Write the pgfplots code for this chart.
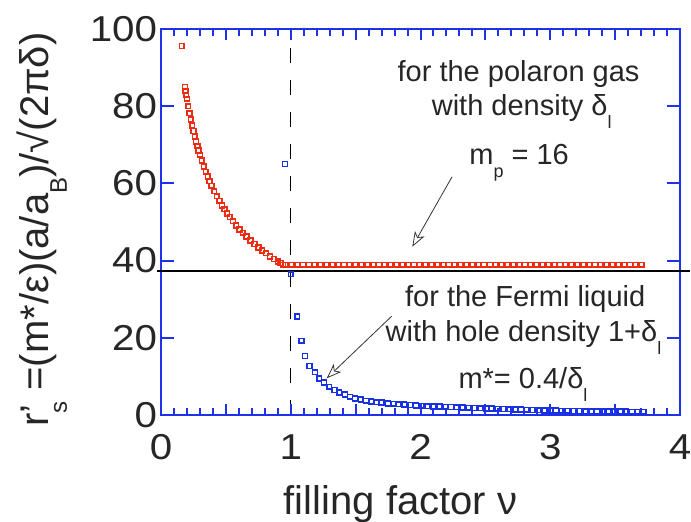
\documentclass[border=0pt]{standalone}
\usepackage{fontspec}
\setmainfont{Liberation Sans}
\usepackage{pgfplots}
\pgfplotsset{compat=1.18}
\usetikzlibrary{arrows.meta}

\definecolor{axblue}{RGB}{30,50,235}
\definecolor{ptred}{RGB}{235,45,20}
\definecolor{ptblue}{RGB}{25,50,225}
% lowered subscripts as in the original
\newcommand\dn[1]{\raisebox{-0.45em}{\fontsize{18}{18}\selectfont #1}}
\newcommand\dnL[1]{\raisebox{-0.45em}{\fontsize{24}{24}\selectfont #1}}

\begin{document}
\begin{tikzpicture}
\begin{axis}[
    name=ax, at={(0,0)}, anchor=south west,
    width=519pt, height=386pt, scale only axis,
    xmin=0, xmax=4, ymin=0, ymax=100,
    clip=false,
    axis line style={axblue, line width=1.6pt},
    tick style={draw=none},
    xtick={0,0.5,...,4}, xticklabels={0,,1,,2,,3,,4},
    ytick={0,20,...,100},
    tick label style={font=\fontsize{36}{36}\selectfont, text=black!85, xscale=1.12},
    /pgf/number format/assume math mode=true,
    xticklabel style={yshift=-16pt},
    xlabel={filling factor ν},
    ylabel={r\rlap{\char"27}\dnL{s} =(m*/ε)(a/a\dnL{B})/√(2πδ)},
    xlabel style={at={(axis description cs:0.4615,-0.232)}, anchor=center,
                  font=\fontsize{40}{40}\selectfont, text=black!85},
    ylabel style={at={(axis description cs:-0.229,0.48)}, anchor=center,
                  font=\fontsize{40}{40}\selectfont, text=black!85},
]
%-- polaron gas branch
\addplot[only marks, mark=square, mark size=2.4pt, ptred,
         mark options={line width=1.6pt}] table {
x y
0.160 95.6
0.185 85.0
0.190 83.9
0.195 82.9
0.200 81.9
0.210 80.0
0.220 78.2
0.230 76.6
0.240 75.0
0.250 73.6
0.260 72.2
0.270 70.9
0.280 69.7
0.290 68.5
0.300 67.4
0.315 65.9
0.330 64.4
0.345 63.0
0.360 61.8
0.375 60.6
0.390 59.4
0.410 58.0
0.430 56.7
0.450 55.5
0.470 54.3
0.490 53.3
0.510 52.2
0.530 51.3
0.555 50.2
0.580 49.1
0.605 48.1
0.630 47.2
0.660 46.2
0.690 45.2
0.720 44.3
0.750 43.4
0.780 42.6
0.810 41.9
0.840 41.1
0.870 40.4
0.900 39.8
0.920 39.4
0.940 38.9
0.960 38.9
1.005 38.9
1.050 38.9
1.095 38.9
1.140 38.9
1.185 38.9
1.230 38.9
1.275 38.9
1.320 38.9
1.365 38.9
1.410 38.9
1.455 38.9
1.500 38.9
1.545 38.9
1.590 38.9
1.635 38.9
1.680 38.9
1.725 38.9
1.770 38.9
1.815 38.9
1.860 38.9
1.905 38.9
1.950 38.9
1.995 38.9
2.040 38.9
2.085 38.9
2.130 38.9
2.175 38.9
2.220 38.9
2.265 38.9
2.310 38.9
2.355 38.9
2.400 38.9
2.445 38.9
2.490 38.9
2.535 38.9
2.580 38.9
2.625 38.9
2.670 38.9
2.715 38.9
2.760 38.9
2.805 38.9
2.850 38.9
2.895 38.9
2.940 38.9
2.985 38.9
3.030 38.9
3.075 38.9
3.120 38.9
3.165 38.9
3.210 38.9
3.255 38.9
3.300 38.9
3.345 38.9
3.390 38.9
3.435 38.9
3.480 38.9
3.525 38.9
3.570 38.9
3.615 38.9
3.660 38.9
3.705 38.9
};
%-- guide lines
\addplot[black, line width=1.5pt, dash pattern=on 15pt off 17pt] coordinates {(1,0) (1,100)};
\addplot[black, line width=1.5pt] coordinates {(-0.03,37.3) (4.077,37.3)};
%-- Fermi liquid branch
\addplot[only marks, mark=square, mark size=2.4pt, ptblue,
         mark options={line width=1.6pt}] table {
x y
0.956 65.0
1.000 36.5
1.050 25.5
1.084 19.2
1.110 15.3
1.143 12.7
1.187 11.1
1.220 9.5
1.256 8.4
1.297 7.3
1.336 6.5
1.374 5.8
1.418 5.3
1.457 4.7
1.495 4.3
1.540 4.0
1.580 3.7
1.620 3.5
1.660 3.3
1.700 3.2
1.750 3.0
1.790 2.9
1.830 2.8
1.875 2.7
1.920 2.6
1.965 2.5
2.010 2.4
2.055 2.3
2.100 2.25
2.145 2.2
2.190 2.1
2.235 2.05
2.280 2.0
2.325 1.9
2.370 1.85
2.415 1.8
2.460 1.75
2.505 1.7
2.550 1.65
2.595 1.6
2.640 1.55
2.685 1.5
2.730 1.45
2.775 1.4
2.820 1.35
2.865 1.3
2.910 1.25
2.955 1.2
3.000 1.15
3.045 1.12
3.090 1.1
3.135 1.07
3.180 1.05
3.225 1.02
3.270 1.0
3.315 0.98
3.360 0.96
3.405 0.94
3.450 0.92
3.495 0.9
3.540 0.88
3.585 0.86
3.630 0.85
3.675 0.84
3.720 0.83
};
%-- annotations
\begin{scope}[every node/.style={anchor=base, text=black!85,
              font=\fontsize{29}{29}\selectfont}]
\node at (axis cs:2.756,86.5) {for the polaron gas};
\node at (axis cs:2.78,77.7) {with density δ\dn{l}};
\node at (axis cs:2.76,64.8) {m\dn{p} = 16};
\node at (axis cs:2.807,28.1) {for the Fermi liquid};
\node at (axis cs:2.794,19.0) {with hole density 1+δ\dn{l}};
\node at (axis cs:2.79,6.9) {m*= 0.4/δ\dn{l}};
\end{scope}
\draw[black!80, line width=0.8pt,
      -{Stealth[open, length=15pt, width=11pt, inset=4pt, fill=white]}]
      (axis cs:2.243,61.7) -- (axis cs:1.937,43.6);
\draw[black!80, line width=0.8pt,
      -{Stealth[open, length=15pt, width=11pt, inset=4pt, fill=white]}]
      (axis cs:1.778,25.6) -- (axis cs:1.277,9.5);
\end{axis}
% inward ticks on all four sides (axis box is 519pt x 386pt at the origin)
\foreach \i in {1,...,39}{
  \pgfmathsetmacro\L{mod(\i,5)==0 ? 11 : 7}
  \draw[axblue, line width=2pt] (\i*12.975pt,0) -- ++(0,\L pt)
        (\i*12.975pt,386pt) -- ++(0,-\L pt);
}
\foreach \j in {1,...,4}{
  \draw[axblue, line width=2pt] (0,\j*77.2pt) -- ++(13pt,0)
        (519pt,\j*77.2pt) -- ++(-13pt,0);
}
\pgfresetboundingbox
\path[use as bounding box] (-161pt,-107pt) rectangle (530pt,415pt);
\end{tikzpicture}
\end{document}
